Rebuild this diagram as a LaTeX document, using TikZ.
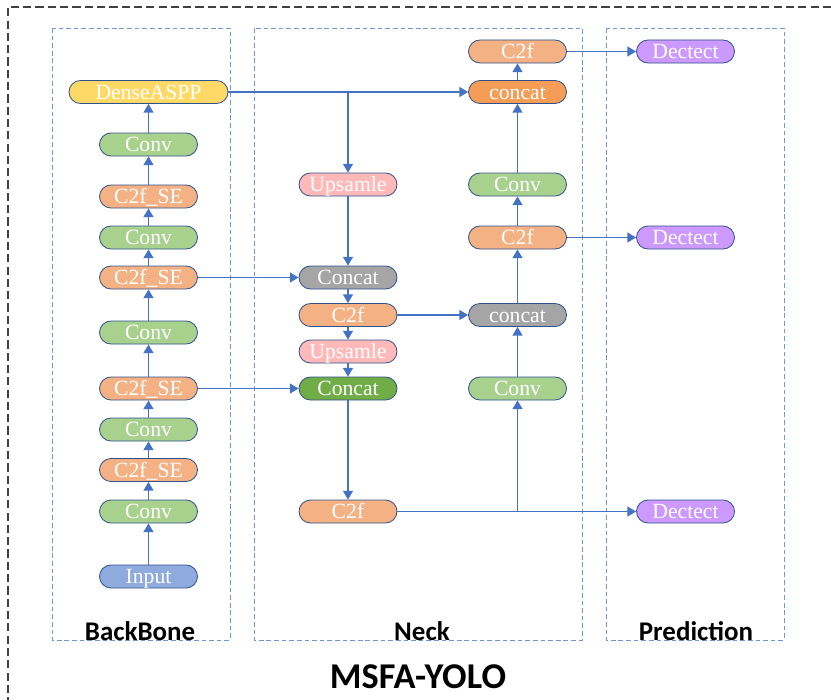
\documentclass[tikz,border=0pt]{standalone}
\usepackage{fontspec}
\setmainfont{Liberation Serif}
\setsansfont{Carlito}
\usepackage{tikz}
\usetikzlibrary{arrows.meta, positioning, calc}
\definecolor{linkblue}{HTML}{4472C4}
\definecolor{blockedge}{HTML}{2F528F}
\definecolor{panelblue}{HTML}{7097D9}
\definecolor{convgreen}{HTML}{A9D18E}
\definecolor{c2forange}{HTML}{F4B183}
\definecolor{catorange}{HTML}{F59D56}
\definecolor{asppyellow}{HTML}{FFD966}
\definecolor{inputblue}{HTML}{8FAADC}
\definecolor{uppink}{HTML}{FFB9B9}
\definecolor{catgray}{HTML}{A5A5A5}
\definecolor{catgreen}{HTML}{70AD47}
\definecolor{detpurple}{HTML}{CC99FF}
\definecolor{framegray}{HTML}{404040}

\begin{document}
\begin{tikzpicture}[x=0.03cm, y=-0.03cm,
  block/.style={rectangle, draw=blockedge, line width=0.7pt,
    minimum width=2.94cm, minimum height=0.69cm, inner sep=0pt,
    rounded corners=0.345cm, text=white, text height=12.2pt, text depth=0pt,
    font=\fontsize{18.5}{20}\selectfont},
  link/.style={draw=linkblue, line width=1.3pt,
    -{Triangle[length=7.5pt, width=8.5pt]}},
  panel/.style={draw=panelblue, line width=0.8pt, dash pattern=on 4pt off 2.5pt},
  partname/.style={font=\sffamily\bfseries\fontsize{23}{26}\selectfont, anchor=base},
]
  \useasboundingbox (0,0) rectangle (831,700);

  % Frame and panels
  \draw[framegray, line width=0.9pt, dash pattern=on 7pt off 3.5pt] (831,7) -- (8,7) -- (8,700);
  \draw[panel] (52,28) rectangle (230,640);
  \draw[panel] (254,28) rectangle (582,640);
  \draw[panel] (606,28) rectangle (784,640);

  % Backbone
  \node[block, fill=inputblue] (input) at (148.5,576.5) {Input};
  \node[block, fill=convgreen] (bconv1) at (148.5,511.5) {Conv};
  \node[block, fill=c2forange] (bse1) at (148.5,470) {C2f\_SE};
  \node[block, fill=convgreen] (bconv2) at (148.5,429.5) {Conv};
  \node[block, fill=c2forange] (bse2) at (148.5,388.5) {C2f\_SE};
  \node[block, fill=convgreen] (bconv3) at (148.5,332.5) {Conv};
  \node[block, fill=c2forange] (bse3) at (148.5,277.5) {C2f\_SE};
  \node[block, fill=convgreen] (bconv4) at (148.5,237.5) {Conv};
  \node[block, fill=c2forange] (bse4) at (148.5,196.5) {C2f\_SE};
  \node[block, fill=convgreen] (bconv5) at (148.5,144.5) {Conv};
  \node[block, fill=asppyellow, minimum width=4.77cm] (aspp) at (148.5,92) {DenseASPP};

  % Neck, left column
  \node[block, fill=uppink] (up1) at (348,184.5) {Upsamle};
  \node[block, fill=catgray] (cat1) at (348,277.5) {Concat};
  \node[block, fill=c2forange] (nc2f1) at (348,315) {C2f};
  \node[block, fill=uppink] (up2) at (348,351.5) {Upsamle};
  \node[block, fill=catgreen] (cat2) at (348,388.5) {Concat};
  \node[block, fill=c2forange] (nc2f2) at (348,511.5) {C2f};

  % Neck, right column
  \node[block, fill=convgreen] (nconv1) at (517.5,388.5) {Conv};
  \node[block, fill=catgray] (cat3) at (517.5,315) {concat};
  \node[block, fill=c2forange] (nc2f3) at (517.5,237.5) {C2f};
  \node[block, fill=convgreen] (nconv2) at (517.5,184.5) {Conv};
  \node[block, fill=catorange] (cat4) at (517.5,92) {concat};
  \node[block, fill=c2forange] (nc2f4) at (517.5,51.5) {C2f};

  % Prediction
  \node[block, fill=detpurple] (det1) at (685.5,51.5) {Dectect};
  \node[block, fill=detpurple] (det2) at (685.5,237.5) {Dectect};
  \node[block, fill=detpurple] (det3) at (685.5,511.5) {Dectect};

  % Backbone links
  \draw[link] (input) -- (bconv1);
  \draw[link] (bconv1) -- (bse1);
  \draw[link] (bse1) -- (bconv2);
  \draw[link] (bconv2) -- (bse2);
  \draw[link] (bse2) -- (bconv3);
  \draw[link] (bconv3) -- (bse3);
  \draw[link] (bse3) -- (bconv4);
  \draw[link] (bconv4) -- (bse4);
  \draw[link] (bse4) -- (bconv5);
  \draw[link] (bconv5) -- (aspp);

  % Neck links
  \draw[link] (aspp) -- (cat4);
  \draw[link] (aspp.east -| up1) -- (up1);
  \draw[link] (up1) -- (cat1);
  \draw[link] (bse3) -- (cat1);
  \draw[link] (cat1) -- (nc2f1);
  \draw[link] (nc2f1) -- (up2);
  \draw[link] (up2) -- (cat2);
  \draw[link] (bse2) -- (cat2);
  \draw[link] (cat2) -- (nc2f2);
  \draw[link] (nc2f2.east -| nconv1) -- (nconv1);
  \draw[link] (nconv1) -- (cat3);
  \draw[link] (nc2f1) -- (cat3);
  \draw[link] (cat3) -- (nc2f3);
  \draw[link] (nc2f3) -- (nconv2);
  \draw[link] (nconv2) -- (cat4);
  \draw[link] (cat4) -- (nc2f4);

  % Prediction links
  \draw[link] (nc2f4) -- (det1);
  \draw[link] (nc2f3) -- (det2);
  \draw[link] (nc2f2) -- (det3);

  % Names
  \node[partname] (bbname) at (140,640) {BackBone};
  \node[partname] (neckname) at (422,640) {Neck};
  \node[partname] (predname) at (696,640) {Prediction};
  \node[font=\sffamily\bfseries\fontsize{31}{34}\selectfont, anchor=base] (title) at (418,688) {MSFA-YOLO};
\end{tikzpicture}
\end{document}
